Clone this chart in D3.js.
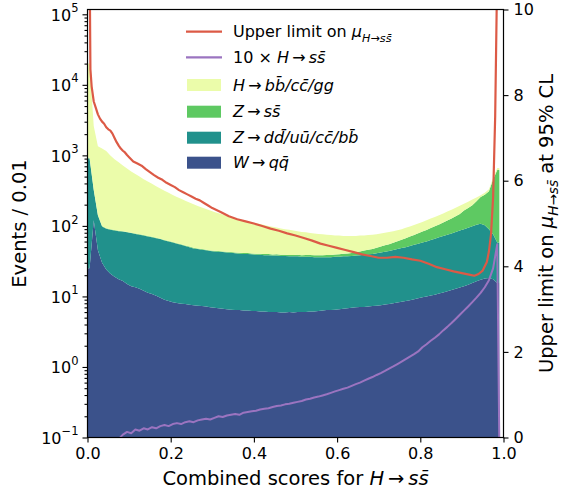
<!DOCTYPE html>
<html><head><meta charset="utf-8">
<script src="https://cdn.jsdelivr.net/npm/d3@7"></script>
<style>body{margin:0;background:#fff}svg{display:block}text{font-family:"DejaVu Sans",sans-serif}</style>
</head><body><svg id="c" width="563" height="493"></svg>
<script>
// ---------------- data ----------------
const binWidth = 0.01;
const W_qq = [25,120,45,30,24,21,19,17.5,16.5,15, 14,13.5,12.8,12,11.3,10.8,10.2,9.6,9.0,8.6, 8.3,8.1,7.9,7.8,7.6,7.5,7.4,7.3,7.2,7.0, 6.9,6.8,6.7,6.6,6.5,6.4,6.4,6.3,6.3,6.2, 6.2,6.1,6.1,6.0,6.0,6.0,5.9,5.9,6.0,5.9, 6.0,6.0,6.0,6.1,6.1,6.2,6.3,6.4,6.4,6.5, 6.6,6.7,6.8,6.9,7.0,7.1,7.1,7.2,7.3,7.4, 7.5,7.7,7.8,8.0,8.2,8.4,8.6,8.8,9.1,9.4, 9.7,10.0,10.3,10.6,11.0,11.4,11.8,12.3,12.8,13.4, 14.0,14.7,15.5,16.4,17.2,17.9,18.2,17.5,15.5,0];
const Z_qq = [875,200,95,68,67,67,67,66.5,66.5,66, 65,63.5,62.2,61,59.7,58.2,56.8,55.4,53,51.4, 49.7,47.9,46.1,44.2,42.4,40.5,39.6,38.7,37.8,37, 36.6,36.3,35.8,35.4,35.0,34.6,34.0,33.7,33.7,33.3, 32.8,32.9,32.4,32.5,32.0,32.0,31.6,31.6,31.0,31.1, 31.0,30.5,30.5,30.4,29.9,29.8,29.7,29.6,29.6,30.0, 29.9,30.3,30.2,30.6,31.0,31.4,31.9,32.3,32.7,33.6, 34.5,35.3,36.2,37.5,38.8,40.1,41.4,43.2,44.9,46.6, 48.3,50.0,52.7,55.4,58.0,60.6,63.2,65.7,69.2,72.6, 76.0,79.3,83.5,87.6,89.8,84.1,71.8,58.5,42.5,0];
const Z_ss = [25,8,3,2,1.6,1.5,1.4,1.3,1.3,1.2, 1.1,1.1,1.0,1.0,1.0,0.95,0.95,0.9,0.9,0.9, 0.9,0.9,0.9,0.9,0.9,0.9,0.9,0.95,0.95,0.95, 1.0,1.0,1.0,1.05,1.05,1.1,1.1,1.15,1.2,1.2, 1.25,1.3,1.35,1.4,1.45,1.5,1.55,1.6,1.7,1.8, 1.9,2.0,2.1,2.2,2.3,2.4,2.5,2.65,2.8,2.9, 3.0,3.2,3.5,3.9,4.4,5.0,5.7,6.4,7.2,8.1, 9,10,11,12.2,13.5,15,16.7,18.5,20.5,22.7, 25,27.5,30,33,36,40,44,49,55,62, 75,85,97,120,150,175,220,380,560,0];
const H_bb = [19075,2272,1207,1150,1057,910,793,715,636,568, 510,467,424,386,353,325,297,274,252,234, 216,201,187,175,164,154,144,135,127,120, 113.5,107,101.5,96,91.5,87,82.4,78.9,74.8,71.3, 68.8,65.7,63.2,60.1,57.6,55.5,53,50.9,49.3,47.2, 45.1,43.5,42.4,40.3,39.7,38.6,37.5,36.4,35.2,33.6, 33.5,31.8,31.5,30.6,29.6,29.5,28.3,28.1,27.8,26.9, 27,27,27,26.3,26.5,26.5,27.3,27.5,28.5,29.3, 31,32.5,34,35,37,38,41,43,44,45, 41,41,40,29,15,18,20,24,42,0];
const H_ss10 = [0.04,0.05,0.06,0.07,0.075,0.08,0.085,0.095,0.11,0.12, 0.115,0.13,0.125,0.135,0.13,0.14,0.135,0.145,0.15,0.145, 0.155,0.16,0.155,0.165,0.17,0.165,0.175,0.18,0.185,0.18, 0.19,0.2,0.195,0.205,0.21,0.215,0.21,0.225,0.23,0.235, 0.24,0.25,0.255,0.26,0.27,0.28,0.285,0.295,0.3,0.31, 0.32,0.33,0.345,0.355,0.37,0.38,0.395,0.41,0.43,0.45, 0.47,0.49,0.51,0.54,0.57,0.6,0.64,0.68,0.72,0.77, 0.82,0.88,0.95,1.02,1.1,1.19,1.29,1.4,1.52,1.66, 1.9,2.1,2.35,2.6,2.9,3.3,3.7,4.2,4.8,5.5, 6.3,7.2,8.3,9.6,11.2,13.5,17,25,55,0];
const limitX = [0.003,0.007,0.010,0.015,0.02,0.025,0.03,0.035,0.04,0.045,0.05,0.055,0.06,0.065,0.07,0.075,0.08,0.085,0.09,0.095,0.10,0.11,0.12,0.13,0.14,0.15,0.16,0.17,0.18,0.19,0.20,0.21,0.22,0.23,0.24,0.25,0.26,0.27,0.28,0.29,0.30,0.32,0.34,0.36,0.38,0.40,0.42,0.44,0.46,0.48,0.50,0.52,0.54,0.56,0.58,0.60,0.62,0.64,0.66,0.68,0.70,0.72,0.74,0.76,0.78,0.80,0.82,0.84,0.86,0.88,0.90,0.92,0.93,0.94,0.95,0.96,0.965,0.97,0.975,0.98,0.985];
const limitY = [14,8.6,8.2,7.85,7.7,7.55,7.45,7.38,7.33,7.25,7.2,7.17,7.1,7.0,6.9,6.82,6.75,6.7,6.66,6.6,6.55,6.45,6.4,6.35,6.27,6.2,6.13,6.07,6.02,5.95,5.9,5.85,5.78,5.73,5.68,5.63,5.58,5.54,5.48,5.42,5.36,5.27,5.17,5.1,5.05,5.0,4.94,4.88,4.83,4.77,4.72,4.66,4.6,4.53,4.48,4.43,4.38,4.33,4.28,4.24,4.2,4.2,4.22,4.2,4.16,4.13,4.06,3.98,3.93,3.88,3.84,3.8,3.78,3.82,3.9,4.1,4.35,4.75,5.6,7.5,11];
const seriesKeys = ["W_qq","Z_qq","Z_ss","H_bb"];
const xTickVals = [0,0.2,0.4,0.6,0.8,1.0];
const xTickLabels = ["0.0","0.2","0.4","0.6","0.8","1.0"];
const yLeftExps = [-1,0,1,2,3,4,5];
const yRightTicks = [0,2,4,6,8,10];

// ---------------- layout ----------------
const L = 87.5, R = 503.5, T = 9.5, B = 437.5;
const col = {W_qq:"#3b528b", Z_qq:"#21918c", Z_ss:"#5ec962", H_bb:"#ebfcaa", lim:"#dc5a46", hss:"#9b74c0"};
const svg = d3.select("#c");
const x = d3.scaleLinear().domain([0,1]).range([L,R]);
const yL = d3.scaleLog().domain([0.1, Math.pow(10,5.068)]).range([B,T]);
const yR = d3.scaleLinear().domain([0,10]).range([B,T]);
const ly = v => yL(Math.max(v, 1e-4));

svg.append("defs").append("clipPath").attr("id","clip").append("rect")
  .attr("x",L).attr("y",T).attr("width",R-L).attr("height",B-T);

const table = W_qq.map((_,i)=>({i, W_qq:W_qq[i], Z_qq:Z_qq[i], Z_ss:Z_ss[i], H_bb:H_bb[i]}));
const stacked = d3.stack().keys(seriesKeys)(table);
const plot = svg.append("g").attr("clip-path","url(#clip)");
const area = d3.area().x(d=>x(d.x)).y0(d=>ly(d.lo)).y1(d=>ly(d.hi));
// last non-empty bin
const lastBin = d3.max(table.filter(r=>seriesKeys.some(k=>r[k]>0)), r=>r.i);
stacked.forEach(s=>{
  const pts = [];
  s.forEach((d,i)=>{
    if (i>lastBin) return;
    const lo = d[0] <= 0 ? 1e-4 : d[0], hi = d[1];
    if (i===0) pts.push({x:0, lo, hi});
    pts.push({x:(i+0.5)*binWidth, lo, hi});
    if (i===lastBin) pts.push({x:(i+1)*binWidth, lo, hi});
  });
  plot.append("path").attr("d", area(pts)).attr("fill", col[s.key]).attr("stroke","none");
});
// 10 x H->ss line
plot.append("path")
  .attr("d", d3.line().x((d,i)=>x((i+0.5)*binWidth)).y(d=>ly(d))(H_ss10))
  .attr("fill","none").attr("stroke",col.hss).attr("stroke-width",2).attr("stroke-linejoin","round");
// upper limit line (right axis)
plot.append("path")
  .attr("d", d3.line().x((d,i)=>x(limitX[i])).y(d=>yR(d))(limitY))
  .attr("fill","none").attr("stroke",col.lim).attr("stroke-width",2.2).attr("stroke-linejoin","round");

// ---------------- axes ----------------
const FS = 16;
function styleAxis(g){
  g.select(".domain").remove();
  g.selectAll(".tick line").attr("stroke","#000").attr("stroke-width",1.1);
  g.attr("font-family","DejaVu Sans").attr("font-size",FS);
  g.selectAll(".tick text").attr("fill","#000");
}
const gx = svg.append("g").attr("transform",`translate(0,${B})`)
  .call(d3.axisBottom(x).tickValues(xTickVals).tickFormat((d,i)=>xTickLabels[i]).tickSize(5).tickPadding(5));
styleAxis(gx);

const gyMinor = svg.append("g").attr("transform",`translate(${L},0)`)
  .call(d3.axisLeft(yL).tickValues(yLeftExps.slice(0,-1).flatMap(e=>[2,3,4,5,6,7,8,9].map(m=>m*Math.pow(10,e)))).tickFormat("").tickSize(3));
styleAxis(gyMinor);
const gy = svg.append("g").attr("transform",`translate(${L},0)`)
  .call(d3.axisLeft(yL).tickValues(yLeftExps.map(e=>Math.pow(10,e))).tickFormat("").tickSize(5));
styleAxis(gy);
gy.selectAll(".tick").each(function(d,i){
  const e = yLeftExps[i];
  const t = d3.select(this).append("text").attr("x",-9).attr("dy","0.36em")
    .attr("text-anchor","end").attr("fill","#000").attr("font-size",FS);
  t.append("tspan").text("10");
  t.append("tspan").attr("font-size",FS*0.72).attr("dy","-0.75em").text(e<0 ? "\u2212"+(-e) : String(e));
});

const gr = svg.append("g").attr("transform",`translate(${R},0)`)
  .call(d3.axisRight(yR).tickValues(yRightTicks).tickSize(5).tickPadding(5));
styleAxis(gr);

svg.append("rect").attr("x",L).attr("y",T).attr("width",R-L).attr("height",B-T)
  .attr("fill","none").attr("stroke","#000").attr("stroke-width",1.2);

// ---------------- rich text helper ----------------
function rich(t, parts, fs){
  let shift = 0;
  parts.forEach(p=>{
    const [txt, it, sub] = p;
    const ts = t.append("tspan").text(txt);
    if (it) ts.attr("font-style","italic");
    const want = sub ? fs*0.28 : 0;
    if (want !== shift){ ts.attr("dy", want - shift); shift = want; }
    if (sub) ts.attr("font-size", fs*0.7);
  });
}
const AR = "\u2009\u2192\u2009";
const sbar = "s\u0304";

// axis labels
const LFS = 19.5;
rich(svg.append("text").attr("x",(L+R)/2).attr("y",485).attr("text-anchor","middle").attr("font-size",LFS),
  [["Combined scores for ",0,0],["H",1,0],[AR,0,0],["s"+sbar,1,0]], LFS);
svg.append("text").attr("transform",`translate(26,${(T+B)/2}) rotate(-90)`).attr("text-anchor","middle")
  .attr("font-size",LFS).text("Events / 0.01");
rich(svg.append("text").attr("transform",`translate(553,${(T+B)/2}) rotate(-90)`).attr("text-anchor","middle").attr("font-size",LFS),
  [["Upper limit on ",0,0],["\u03bc",1,0],["H",1,1],["\u2192",0,1],["s"+sbar,1,1],[" at 95% CL",0,0]], LFS);

// ---------------- legend ----------------
const legFS = 16;
const leg = svg.append("g");
const items = [
  {type:"line", color:col.lim, y:31.7, parts:[["Upper limit on ",0,0],["\u03bc",1,0],["H",1,1],["\u2192",0,1],["s"+sbar,1,1]]},
  {type:"line", color:col.hss, y:57.3, parts:[["10 \u00d7 ",0,0],["H",1,0],[AR,0,0],["s"+sbar,1,0]]},
  {type:"patch", color:col.H_bb, y:85, parts:[["H",1,0],[AR,0,0],["b"+"b\u0304"+"/c"+"c\u0304"+"/gg",1,0]]},
  {type:"patch", color:col.Z_ss, y:111.7, parts:[["Z",1,0],[AR,0,0],["s"+sbar,1,0]]},
  {type:"patch", color:col.Z_qq, y:137.7, parts:[["Z",1,0],[AR,0,0],["d"+"d\u0304"+"/u"+"u\u0304"+"/c"+"c\u0304"+"/b"+"b\u0304",1,0]]},
  {type:"patch", color:col.W_qq, y:162.7, parts:[["W",1,0],[AR,0,0],["q"+"q\u0304",1,0]]}
];
items.forEach(it=>{
  if (it.type==="line") leg.append("line").attr("x1",186).attr("x2",222).attr("y1",it.y).attr("y2",it.y)
      .attr("stroke",it.color).attr("stroke-width",2.2);
  else leg.append("rect").attr("x",187).attr("y",it.y-6).attr("width",34).attr("height",12).attr("fill",it.color);
  rich(leg.append("text").attr("x",233).attr("y",it.y).attr("dy","0.36em").attr("font-size",legFS), it.parts, legFS);
});
</script></body></html>
